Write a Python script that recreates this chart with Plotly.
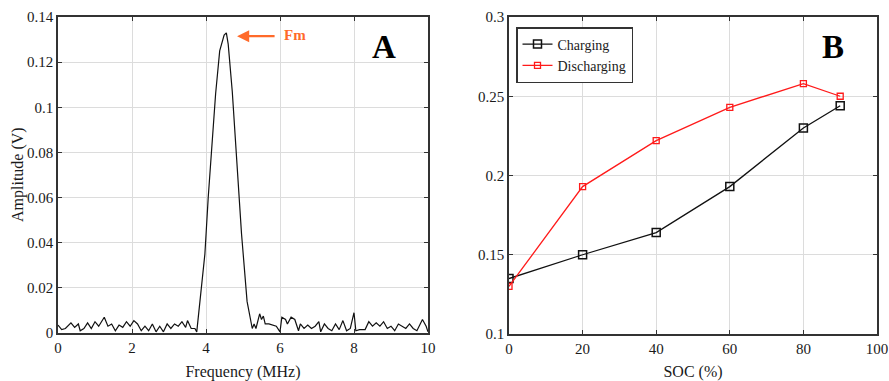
import plotly.graph_objects as go

# ---- Panel A data: spectrum (MHz, V) ----
freq = [0.0, 0.1, 0.2, 0.35, 0.45, 0.55, 0.6, 0.7, 0.8, 0.9, 1.0, 1.1, 1.25, 1.35, 1.45, 1.55,
        1.65, 1.75, 1.85, 1.95, 2.05, 2.15, 2.25, 2.35, 2.45, 2.55, 2.65, 2.75, 2.85, 2.95,
        3.05, 3.15, 3.25, 3.35, 3.45, 3.5, 3.6, 3.7, 3.75, 3.85, 3.97, 4.06, 4.15, 4.22, 4.26,
        4.37, 4.49, 4.55, 4.6, 4.71, 4.82, 4.96, 5.11, 5.25, 5.3, 5.35, 5.45, 5.5, 5.55, 5.6,
        5.7, 5.8, 5.9, 6.0, 6.05, 6.15, 6.2, 6.3, 6.4, 6.5, 6.55, 6.65, 6.75, 6.85, 6.95,
        7.05, 7.1, 7.2, 7.3, 7.4, 7.5, 7.6, 7.7, 7.8, 7.9, 8.0, 8.05, 8.15, 8.3, 8.4, 8.5,
        8.6, 8.7, 8.8, 8.9, 9.0, 9.1, 9.2, 9.3, 9.4, 9.5, 9.6, 9.7, 9.85, 9.95, 10.0]
amp_mv = [3.5, 1.5, 2.0, 4.5, 2.5, 4.0, 1.0, 2.0, 4.5, 2.0, 5.0, 3.0, 7.0, 3.0, 4.0, 1.0,
          3.5, 2.5, 5.0, 3.0, 5.5, 4.0, 1.0, 3.0, 1.0, 4.0, 0.5, 3.0, 0.5, 4.0,
          2.0, 4.0, 3.0, 5.0, 2.5, 5.5, 2.0, 2.0, 0.5, 17.0, 35.0, 60.0, 80.0, 100.0, 106.0,
          125.0, 132.0, 133.0, 128.0, 107.0, 80.0, 44.0, 14.0, 2.0, 4.0, 2.0, 8.5, 6.0, 7.5, 4.0,
          4.0, 3.5, 3.0, 0.5, 7.0, 6.0, 4.0, 7.0, 6.0, 1.0, 4.0, 2.0, 3.5, 2.0, 3.0,
          5.0, 0.5, 4.0, 2.0, 1.0, 4.0, 1.5, 5.5, 1.0, 2.0, 9.0, 1.0, 1.5, 1.5, 5.0, 3.0,
          4.5, 3.0, 5.0, 2.0, 3.0, 1.0, 4.0, 3.0, 2.0, 4.0, 2.0, 1.0, 6.0, 3.0, 0.5]
amp = [v / 1000.0 for v in amp_mv]

# ---- Panel B data ----
soc = [0, 20, 40, 60, 80, 90]
charging = [0.135, 0.150, 0.164, 0.193, 0.230, 0.244]
discharging = [0.130, 0.193, 0.222, 0.243, 0.258, 0.250]

xA_ticks = [0, 2, 4, 6, 8, 10]
yA_ticks = [0, 0.02, 0.04, 0.06, 0.08, 0.1, 0.12, 0.14]
yA_labels = ["0", "0.02", "0.04", "0.06", "0.08", "0.1", "0.12", "0.14"]
xB_ticks = [0, 20, 40, 60, 80, 100]
yB_ticks = [0.1, 0.15, 0.2, 0.25, 0.3]
yB_labels = ["0.1", "0.15", "0.2", "0.25", "0.3"]

FONT = "Liberation Serif, Times New Roman, DejaVu Serif, serif"
W, H = 889, 381

fig = go.Figure()
fig.add_trace(go.Scatter(x=freq, y=amp, mode="lines", line=dict(color="#111111", width=1.2),
                         showlegend=False, xaxis="x", yaxis="y"))
fig.add_trace(go.Scatter(x=soc, y=charging, mode="lines+markers", name="Charging",
                         line=dict(color="#111111", width=1.3),
                         marker=dict(symbol="square-open", size=8, color="#111111",
                                     line=dict(width=1.5)),
                         xaxis="x2", yaxis="y2"))
fig.add_trace(go.Scatter(x=soc, y=discharging, mode="lines+markers", name="Discharging",
                         line=dict(color="#ff1a1a", width=1.3),
                         marker=dict(symbol="square-open", size=6, color="#ff1a1a",
                                     line=dict(width=1.3)),
                         xaxis="x2", yaxis="y2"))

axis_common = dict(showgrid=True, gridcolor="#dcdcdc", gridwidth=1, showline=True,
                   linecolor="#333333", linewidth=1.5, mirror="ticks", ticks="inside",
                   ticklen=4, tickcolor="#333333", zeroline=False, automargin=False,
                   tickfont=dict(family=FONT, size=15, color="#1a1a1a"))

fig.update_layout(
    width=W, height=H, margin=dict(l=0, r=0, t=0, b=0, autoexpand=False),
    paper_bgcolor="white", plot_bgcolor="white",
    font=dict(family=FONT, color="#1a1a1a"),
    xaxis=dict(domain=[58 / W, 428 / W], range=[0, 10], tickvals=xA_ticks, anchor="y",
               title=dict(text="Frequency (MHz)", font=dict(family=FONT, size=16)),
               **axis_common),
    yaxis=dict(domain=[1 - 333 / H, 1 - 17 / H], range=[0, 0.14], tickvals=yA_ticks,
               ticktext=yA_labels, anchor="x", **axis_common),
    xaxis2=dict(domain=[509 / W, 877 / W], range=[0, 100], tickvals=xB_ticks, anchor="y2",
                title=dict(text="SOC (%)", font=dict(family=FONT, size=16)),
                **axis_common),
    yaxis2=dict(domain=[1 - 334 / H, 1 - 17 / H], range=[0.1, 0.3], tickvals=yB_ticks,
                ticktext=yB_labels, anchor="x2", **axis_common),
    legend=dict(x=516 / W, y=1 - 27 / H, xanchor="left", yanchor="top",
                bgcolor="white", bordercolor="#333333", borderwidth=1.5,
                font=dict(family=FONT, size=14, color="#1a1a1a"),
                tracegroupgap=0, itemwidth=30),
    showlegend=True,
)

# y-axis title of panel A
fig.add_annotation(x=18 / W, y=1 - 175 / H, xref="paper", yref="paper", text="Amplitude (V)",
                   textangle=-90, showarrow=False, xanchor="center", yanchor="middle",
                   font=dict(family=FONT, size=16, color="#1a1a1a"))
fig.add_annotation(x=4.84, y=0.1315, ax=39, ay=0, xref="x", yref="y", text="",
                   showarrow=True, arrowhead=2, arrowsize=1.1,
                   arrowwidth=2.2, arrowcolor="#ff6a2a")
fig.add_annotation(x=282 / W, y=1 - 35 / H, xref="paper", yref="paper", text="<b>Fm</b>",
                   showarrow=False, xanchor="left", yanchor="middle",
                   font=dict(family=FONT, size=15, color="#ff6a2a"))
fig.add_annotation(x=384 / W, y=1 - 47 / H, xref="paper", yref="paper", text="<b>A</b>",
                   showarrow=False, xanchor="center", yanchor="middle",
                   font=dict(family=FONT, size=33, color="#000000"))
fig.add_annotation(x=833 / W, y=1 - 47 / H, xref="paper", yref="paper", text="<b>B</b>",
                   showarrow=False, xanchor="center", yanchor="middle",
                   font=dict(family=FONT, size=33, color="#000000"))

fig.write_html("out.html", config={"displayModeBar": False},
               post_script="document.body.style.margin='0';document.body.style.overflow='hidden';")
